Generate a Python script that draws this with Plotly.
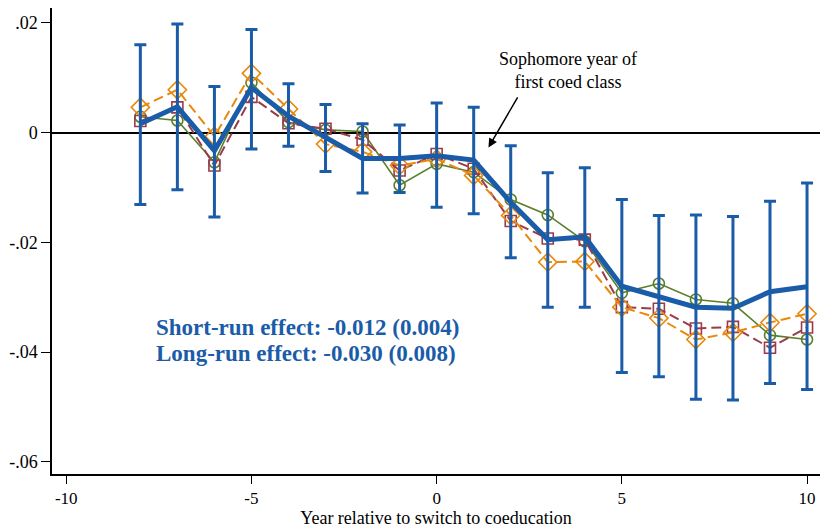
import plotly.graph_objects as go

years = list(range(-8, 11))

estimate = [0.0016, 0.0047, -0.0033, 0.0082, 0.0030, -0.0008, -0.0047, -0.0047, -0.0042, -0.0050,
            -0.0127, -0.0195, -0.0190, -0.0280, -0.0298, -0.0318, -0.0320, -0.0290, -0.0281]
ci_hi = [0.0160, 0.0198, 0.0084, 0.0188, 0.0089, 0.0051, 0.0016, 0.0014, 0.0054, 0.0046,
         -0.0024, -0.0073, -0.0064, -0.0122, -0.0151, -0.0150, -0.0153, -0.0125, -0.0092]
ci_lo = [-0.0131, -0.0104, -0.0154, -0.0030, -0.0025, -0.0071, -0.0110, -0.0109, -0.0136, -0.0148,
         -0.0228, -0.0318, -0.0318, -0.0437, -0.0445, -0.0486, -0.0487, -0.0457, -0.0468]

green_series = [0.0029, 0.0022, -0.0054, 0.0091, 0.0019, 0.0005, 0.0002, -0.0096, -0.0057, -0.0072,
                -0.0122, -0.0150, -0.0198, -0.0292, -0.0275, -0.0304, -0.0311, -0.0369, -0.0377]
maroon_series = [0.0021, 0.0046, -0.0060, 0.0065, 0.0017, 0.0007, -0.0013, -0.0069, -0.0039, -0.0066,
                 -0.0161, -0.0193, -0.0195, -0.0318, -0.0321, -0.0357, -0.0354, -0.0392, -0.0355]
orange_series = [0.0046, 0.0078, -0.0007, 0.0108, 0.0043, -0.0021, -0.0035, -0.0060, -0.0048, -0.0078,
                 -0.0151, -0.0236, -0.0235, -0.0318, -0.0338, -0.0377, -0.0364, -0.0346, -0.0330]

x_ticks = [-10, -5, 0, 5, 10]
x_ticklabels = ["-10", "-5", "0", "5", "10"]
y_ticks = [0.02, 0, -0.02, -0.04, -0.06]
y_ticklabels = [".02", "0", "-.02", "-.04", "-.06"]

BLUE = "#1a5ca8"
GREEN = "#5a7f2a"
MAROON = "#9a3b4b"
ORANGE = "#e8880c"
FONT = "Liberation Serif, Times New Roman, serif"

err_plus = [h - e for h, e in zip(ci_hi, estimate)]
err_minus = [e - l for e, l in zip(estimate, ci_lo)]

fig = go.Figure()

fig.add_trace(go.Scatter(
    x=years, y=green_series, mode="lines+markers",
    line=dict(color=GREEN, width=1.6),
    marker=dict(symbol="circle-open", size=11, color=GREEN, line=dict(width=1.6)),
    showlegend=False))
fig.add_trace(go.Scatter(
    x=years, y=maroon_series, mode="lines+markers",
    line=dict(color=MAROON, width=2, dash="10px,5px"),
    marker=dict(symbol="square-open", size=11, color=MAROON, line=dict(width=1.6)),
    showlegend=False))
fig.add_trace(go.Scatter(
    x=years, y=orange_series, mode="lines+markers",
    line=dict(color=ORANGE, width=2, dash="10px,5px"),
    marker=dict(symbol="diamond-open", size=14, color=ORANGE, line=dict(width=1.6)),
    showlegend=False))
fig.add_trace(go.Scatter(
    x=years, y=estimate, mode="lines",
    line=dict(color=BLUE, width=5),
    error_y=dict(type="data", symmetric=False, array=err_plus, arrayminus=err_minus,
                 color=BLUE, thickness=3, width=6),
    showlegend=False))

fig.add_annotation(x=-7.64, y=-0.0355, xref="x", yref="y", xanchor="left",
                   text="<b>Short-run effect: -0.012 (0.004)</b>", showarrow=False,
                   font=dict(family=FONT, size=23, color=BLUE))
fig.add_annotation(x=-7.64, y=-0.0403, xref="x", yref="y", xanchor="left",
                   text="<b>Long-run effect: -0.030 (0.008)</b>", showarrow=False,
                   font=dict(family=FONT, size=23, color=BLUE))

fig.add_annotation(x=3.54, y=0.0113, xref="x", yref="y",
                   text="Sophomore year of<br>first coed class", showarrow=False,
                   font=dict(family=FONT, size=18, color="black"))
fig.add_annotation(x=1.4, y=-0.0027, xref="x", yref="y", ax=2.21, ay=0.0067,
                   axref="x", ayref="y", text="", showarrow=True,
                   arrowhead=2, arrowsize=1.2, arrowwidth=1.5, arrowcolor="black")

fig.update_layout(
    width=820, height=528,
    margin=dict(l=52, r=0, t=8, b=54),
    paper_bgcolor="white", plot_bgcolor="white",
    font=dict(family=FONT, size=18, color="black"),
    xaxis=dict(range=[-10.385, 10.35], tickvals=x_ticks, ticktext=x_ticklabels,
               showline=True, linecolor="black", linewidth=1.5, mirror=False,
               ticks="outside", ticklen=8, tickwidth=1.3, tickcolor="black",
               showgrid=False, zeroline=False, automargin=False,
               tickfont=dict(family=FONT, size=17),
               title=dict(text="Year relative to switch to coeducation", standoff=0,
                          font=dict(family=FONT, size=18))),
    yaxis=dict(range=[-0.0622, 0.0227], tickvals=y_ticks, ticktext=y_ticklabels,
               showline=True, linecolor="black", linewidth=1.5, mirror=False,
               ticks="outside", ticklen=9, tickwidth=1.3, tickcolor="black",
               showgrid=False, zeroline=True, zerolinecolor="black", zerolinewidth=1.6,
               tickfont=dict(family=FONT, size=18), automargin=False),
)

fig.write_html(
    "out.html",
    config={"displayModeBar": False},
    post_script="document.body.style.margin='0';document.body.style.overflow='hidden';",
)
